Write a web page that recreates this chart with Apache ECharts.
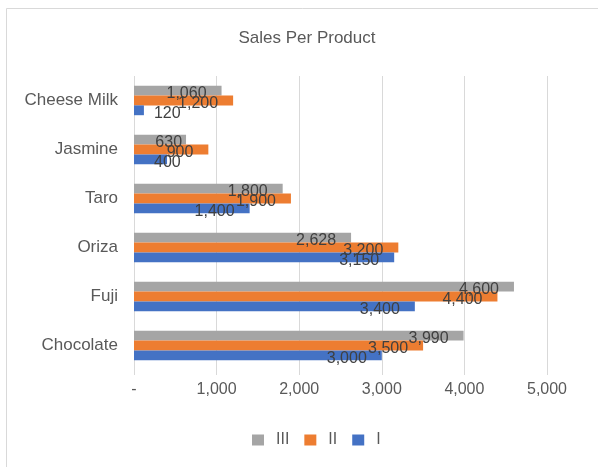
<!DOCTYPE html>
<html>
<head>
<meta charset="utf-8">
<script src="https://cdn.jsdelivr.net/npm/echarts@6/dist/echarts.min.js"></script>
<style>html,body{margin:0;padding:0;background:#fff}#c{width:598px;height:467px}</style>
</head>
<body>
<div id="c"></div>
<script>
// Categories bottom-to-top (ECharts category axis starts at bottom)
const categories = ['Chocolate', 'Fuji', 'Oriza', 'Taro', 'Jasmine', 'Cheese Milk'];
const seriesI = [3000, 3400, 3150, 1400, 400, 120];
const seriesII = [3500, 4400, 3200, 1900, 900, 1200];
const seriesIII = [3990, 4600, 2628, 1800, 630, 1060];
const seriesOrder = ['III', 'II', 'I'];
const legendOrder = ['III', 'II', 'I'];
const xTicks = [0, 1000, 2000, 3000, 4000, 5000];

const FONT = 'Liberation Sans, Arial, sans-serif';
const colors = { I: '#4472c4', II: '#ed7d31', III: '#a5a5a5' };

function fmt(v) { return v === 0 ? '-' : v.toLocaleString('en-US'); }

const baseLabel = {
  show: true,
  position: 'insideRight',
  distance: 15,
  offset: [0, 3],
  color: '#404040',
  fontSize: 16,
  fontFamily: FONT,
  formatter: p => fmt(p.value)
};

function buildData(values, name) {
  return values.map((v, i) => {
    if (name === 'I' && categories[i] === 'Cheese Milk') {
      return { value: v, label: { position: 'right', distance: 10 } };
    }
    if (name === 'I' && categories[i] === 'Jasmine') {
      return { value: v, label: { position: 'right', distance: -13 } };
    }
    if (name === 'III' && categories[i] === 'Jasmine') {
      return { value: v, label: { position: 'insideRight', distance: 4 } };
    }
    return v;
  });
}

const values = { I: seriesI, II: seriesII, III: seriesIII };

const chart = echarts.init(document.getElementById('c'), null, { renderer: 'canvas' });
chart.setOption({
  animation: false,
  backgroundColor: '#fff',
  textStyle: { fontFamily: FONT },
  graphic: [{
    type: 'rect',
    shape: { x: 6.5, y: 8.5, width: 640, height: 500 },
    style: { fill: 'none', stroke: '#d9d9d9', lineWidth: 1 },
    silent: true, z: -10
  }],
  title: {
    text: 'Sales Per Product',
    left: 302, top: 25, textAlign: 'center',
    textStyle: { color: '#595959', fontSize: 17, fontWeight: 'normal', fontFamily: FONT }
  },
  legend: {
    data: legendOrder,
    left: 247, top: 427,
    itemWidth: 12, itemHeight: 11, itemGap: 15,
    icon: 'rect',
    textStyle: { color: '#595959', fontSize: 16, fontFamily: FONT, padding: [0, 0, 0, 7] }
  },
  grid: { left: 134, right: 51, top: 76, bottom: 97, containLabel: false },
  xAxis: {
    type: 'value', min: xTicks[0], max: xTicks[xTicks.length - 1], interval: 1000,
    axisLine: { show: false },
    axisTick: { show: true, length: 5, lineStyle: { color: '#d9d9d9' } },
    splitLine: { show: true, lineStyle: { color: '#d9d9d9' } },
    axisLabel: { color: '#595959', fontSize: 16, fontFamily: FONT, margin: 12, formatter: fmt }
  },
  yAxis: {
    type: 'category', data: categories,
    axisLine: { show: false },
    axisTick: { show: false },
    axisLabel: { color: '#595959', fontSize: 17, fontFamily: FONT, margin: 16 }
  },
  series: seriesOrder.map(n => ({
    name: n, type: 'bar',
    data: buildData(values[n], n),
    itemStyle: { color: colors[n] },
    barGap: '0%', barCategoryGap: '40%',
    label: baseLabel
  }))
});
</script>
</body>
</html>
